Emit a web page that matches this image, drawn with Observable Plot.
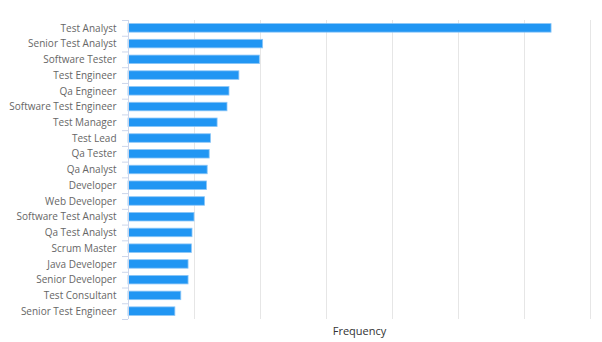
<!DOCTYPE html>
<html><head><meta charset="utf-8">
<script src="https://cdn.jsdelivr.net/npm/d3@7"></script>
<script src="https://cdn.jsdelivr.net/npm/@observablehq/plot@0.6"></script>
<style>body{margin:0;background:#fff}</style>
</head><body><div id="chart"></div>
<script>
const titles = [
  "Test Analyst", "Senior Test Analyst", "Software Tester", "Test Engineer", "Qa Engineer",
  "Software Test Engineer", "Test Manager", "Test Lead", "Qa Tester", "Qa Analyst",
  "Developer", "Web Developer", "Software Test Analyst", "Qa Test Analyst", "Scrum Master",
  "Java Developer", "Senior Developer", "Test Consultant", "Senior Test Engineer"
];
const frequency = [64.1, 20.4, 19.9, 16.8, 15.3, 15.0, 13.5, 12.5, 12.3, 12.0, 11.9, 11.6, 10.0, 9.7, 9.6, 9.1, 9.1, 8.0, 7.1];
const xTicks = [0, 10, 20, 30, 40, 50, 60, 70];
const axisTitle = "Frequency";

const data = titles.map((t, i) => ({title: t, value: frequency[i]}));
const W = 602, H = 342, mt = 20, mb = 23, ml = 128, mr = 12;
const step = (H - mt - mb) / titles.length;
const tickColor = "#ccd6eb";

const chart = Plot.plot({
  width: W, height: H,
  marginTop: mt, marginBottom: mb, marginLeft: ml, marginRight: mr,
  style: {fontFamily: "'Open Sans', sans-serif", fontSize: "10px", background: "#fff"},
  x: {domain: [0, 70], axis: null},
  y: {domain: titles, padding: 0, round: false, axis: null},
  marks: [
    Plot.gridX(xTicks, {stroke: "#e6e6e6", strokeOpacity: 1}),
    Plot.barX(data, {x: "value", y: "title", fill: "#2196f3", stroke: "#8cc6f7", strokeWidth: 0.8, insetTop: 3.6, insetBottom: 3.6}),
    Plot.ruleX([0], {stroke: tickColor, strokeOpacity: 1}),
    Plot.ruleY(titles, {y: d => d, x1: 0, x2: 0, insetLeft: -6, dy: -step / 2, stroke: tickColor, strokeOpacity: 1}),
    Plot.ruleY(titles.slice(-1), {y: d => d, x1: 0, x2: 0, insetLeft: -6, dy: step / 2, stroke: tickColor, strokeOpacity: 1}),
    Plot.axisY({tickSize: 0, tickPadding: 12, color: "#666", fontSize: 10, label: null}),
    Plot.text([axisTitle], {frameAnchor: "bottom", dy: 12, lineAnchor: "middle", fill: "#333", fontSize: 11})
  ]
});
document.getElementById("chart").append(chart);
</script>
</body></html>
